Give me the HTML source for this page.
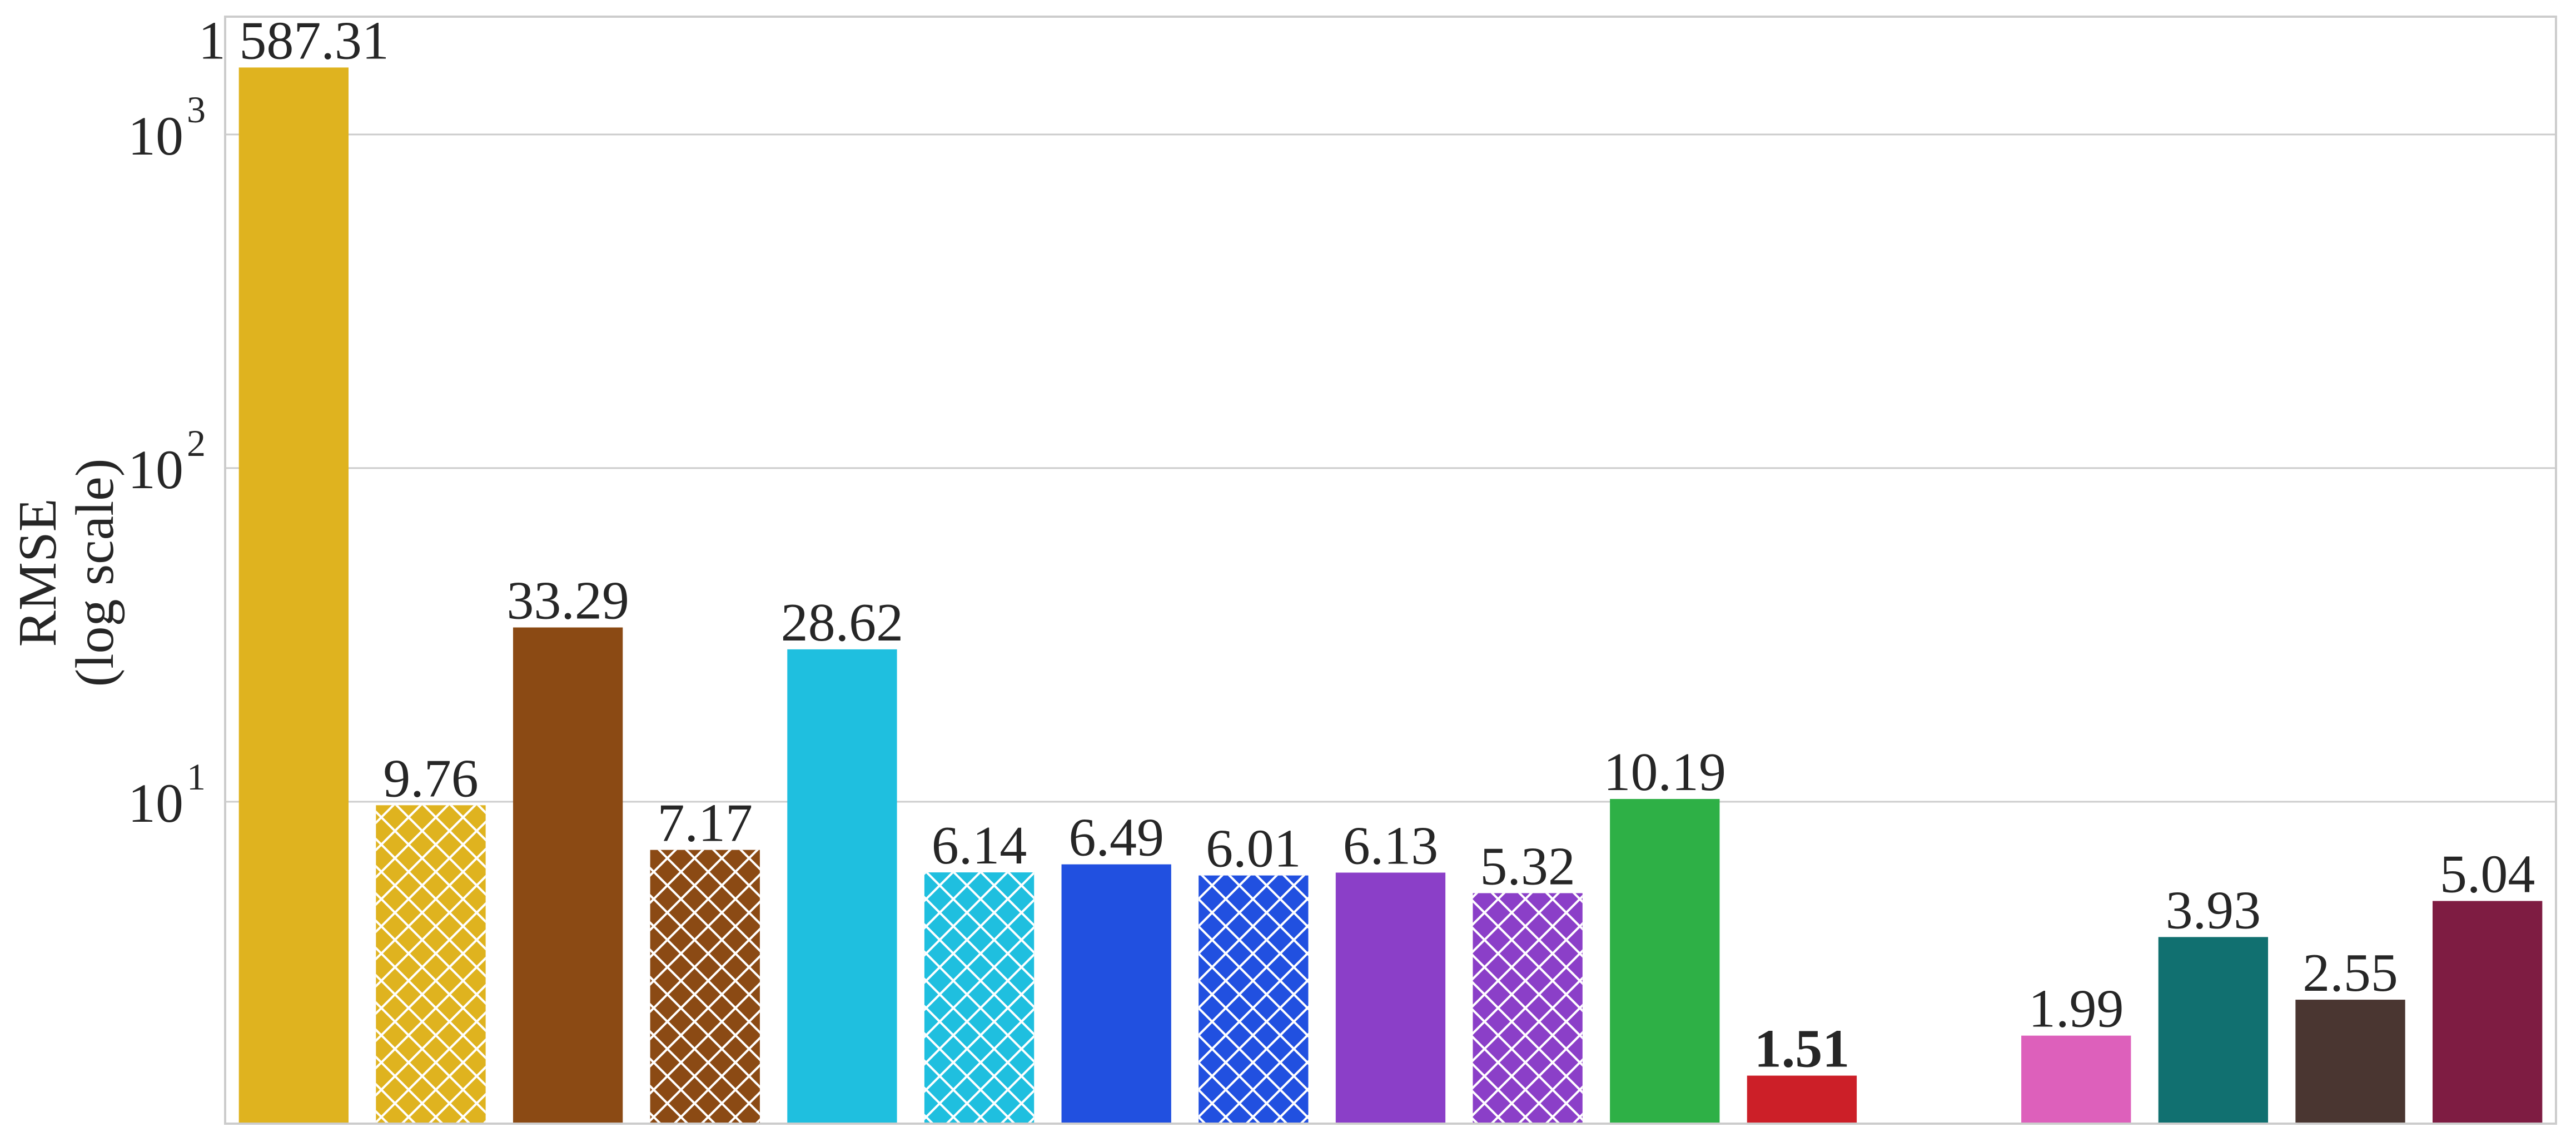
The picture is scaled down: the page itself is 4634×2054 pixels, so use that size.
<!DOCTYPE html>
<html><head><meta charset="utf-8"><style>html,body{margin:0;padding:0;background:#fff}svg{display:block}</style></head>
<body>
<svg id="chart" width="4634" height="2054" viewBox="0 0 4634 2054" xmlns="http://www.w3.org/2000/svg" font-family="'Liberation Serif', serif">
<defs>
<pattern id="hatch" patternUnits="userSpaceOnUse" width="49" height="49">
<path d="M0 0L49 49M49 0L0 49M-5 44L5 54M44 -5L54 5" stroke="#fff" stroke-width="4" fill="none"/>
</pattern>
</defs>
<g id="grid"></g>
<g id="bars"></g>
<g id="labels"></g>
<g id="axes"></g>
<text transform="translate(0,1030) rotate(-90)" text-anchor="middle" font-size="98" fill="#262626"><tspan x="0" y="100">RMSE</tspan><tspan x="0" y="203">(log scale)</tspan></text>
</svg>
<script>
const categories = ["m1","m1-x","m2","m2-x","m3","m3-x","m4","m4-x","m5","m5-x","m6","m7","","m8","m9","m10","m11"];
const values = [1587.31,9.76,33.29,7.17,28.62,6.14,6.49,6.01,6.13,5.32,10.19,1.51,null,1.99,3.93,2.55,5.04];
const valueLabels = ["1 587.31","9.76","33.29","7.17","28.62","6.14","6.49","6.01","6.13","5.32","10.19","1.51","","1.99","3.93","2.55","5.04"];
const colors = ["#DFB31F","#DFB31F","#8B4A14","#8B4A14","#1FBFDF","#1FBFDF","#2150E0","#2150E0","#8B3FC8","#8B3FC8","#2EB046","#CC1F28","#fff","#DD60BB","#117070","#4A3631","#7E1C42"];
const hatched = [false,true,false,true,false,true,false,true,false,true,false,false,false,false,false,false,false];
const yTicks = [10,100,1000];
const yTickExp = ["1","2","3"];

const NS="http://www.w3.org/2000/svg";
const L=405,R=4598,T=30,B=2021;
const logMin=0.035,logMax=3.353;
function y(v){return B-(Math.log10(v)-logMin)/(logMax-logMin)*(B-T);}
const slot=(R-L)/categories.length;
function x(i){return L+slot*(i+0.5);}
function mk(tag,attrs,parent){const e=document.createElementNS(NS,tag);for(const k in attrs)e.setAttribute(k,attrs[k]);parent.appendChild(e);return e;}
const grid=document.getElementById('grid'),bars=document.getElementById('bars'),labels=document.getElementById('labels'),axes=document.getElementById('axes');

yTicks.forEach((t,i)=>{
  const g=mk('line',{x1:L,x2:R,y1:y(t),y2:y(t),stroke:'#cccccc','stroke-width':3},grid);
  
  
  const tx=mk('text',{x:330,y:y(t)+36,'text-anchor':'end','font-size':100,fill:'#262626'},axes);
  
  
  tx.textContent='10';
  const sp=mk('tspan',{x:336,dy:-58,'font-size':68,'text-anchor':'start'},tx);
  sp.textContent=yTickExp[i];
});

const bw=slot*0.8;
values.forEach((v,i)=>{
  if(v==null)return;
  const top=y(v);
  const r=mk('rect',{x:x(i)-bw/2,y:top,width:bw,height:B-top,fill:colors[i]},bars);
  
  
  if(hatched[i]){
    const h=mk('rect',{x:x(i)-bw/2,y:top,width:bw,height:B-top,fill:'url(#hatch)'},bars);
    
    
  }
  const t=mk('text',{x:x(i),y:top-16,'text-anchor':'middle','font-size':98,fill:'#262626'},labels);
  
  
  if(v===Math.min(...values.filter(a=>a!=null)))t.setAttribute('font-weight','bold');
  t.textContent=valueLabels[i];
});

const frame=mk('rect',{x:L,y:T,width:R-L,height:B-T,fill:'none',stroke:'#cccccc','stroke-width':4},axes);


</script>
</body></html>
